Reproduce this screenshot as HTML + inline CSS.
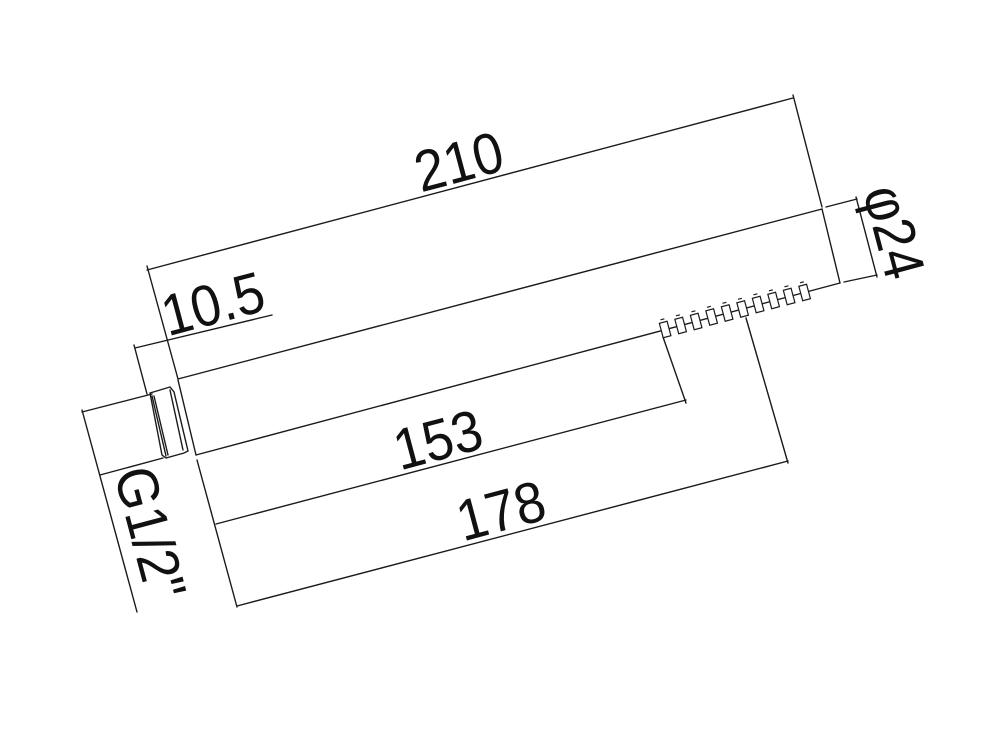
<!DOCTYPE html>
<html><head><meta charset="utf-8"><style>
html,body{margin:0;padding:0;background:#fff;}
svg{display:block;}
text{font-family:"Liberation Sans",sans-serif;font-size:58px;fill:#111;}
</style></head><body>
<svg width="1000" height="734" viewBox="0 0 1000 734" xmlns="http://www.w3.org/2000/svg">
<g stroke="#1a1a1a" stroke-width="1.4" fill="none" stroke-linecap="round">
<line x1="178" y1="379" x2="822" y2="209"/>
<line x1="196" y1="455" x2="840" y2="283"/>
<line x1="822" y1="209" x2="840" y2="283"/>
<line x1="178" y1="380" x2="196" y2="455"/>
<polygon points="150,393 170,387 174,392 188,451 184,453 166,458 162,455"/>
<line x1="152" y1="396" x2="166" y2="456"/>
<line x1="154" y1="396" x2="168" y2="455"/>
<line x1="170" y1="390" x2="183" y2="450"/>
<line x1="147" y1="270" x2="793" y2="98"/>
<line x1="147" y1="266" x2="178" y2="379"/>
<line x1="793" y1="95" x2="822" y2="207"/>
<line x1="135" y1="348" x2="272" y2="315"/>
<line x1="134" y1="345" x2="147" y2="394"/>
<line x1="826" y1="207" x2="857" y2="199"/>
<line x1="844" y1="282" x2="877" y2="275"/>
<line x1="856" y1="197" x2="877" y2="277"/>
<line x1="152" y1="394" x2="82" y2="412"/>
<line x1="163" y1="458" x2="100" y2="475"/>
<line x1="82" y1="410" x2="137" y2="612"/>
<line x1="197" y1="460" x2="237" y2="607"/>
<line x1="216" y1="524" x2="686" y2="400"/>
<line x1="663" y1="337" x2="686" y2="403"/>
<line x1="237" y1="606" x2="788" y2="461"/>
<line x1="746" y1="318" x2="788" y2="463"/>
</g>
<g stroke="#1a1a1a" stroke-width="1.2" fill="#fff">
<g transform="translate(665,329) rotate(-14.9)"><rect x="-4" y="-7" width="8" height="15"/><line x1="-2" y1="-10" x2="2" y2="-10"/></g>
<g transform="translate(680.5,325) rotate(-14.9)"><rect x="-4" y="-7" width="8" height="15"/><line x1="-2" y1="-10" x2="2" y2="-10"/></g>
<g transform="translate(696,321) rotate(-14.9)"><rect x="-4" y="-7" width="8" height="15"/><line x1="-2" y1="-10" x2="2" y2="-10"/></g>
<g transform="translate(711.5,316.5) rotate(-14.9)"><rect x="-4" y="-7" width="8" height="15"/><line x1="-2" y1="-10" x2="2" y2="-10"/></g>
<g transform="translate(727,312.5) rotate(-14.9)"><rect x="-4" y="-7" width="8" height="15"/><line x1="-2" y1="-10" x2="2" y2="-10"/></g>
<g transform="translate(742.5,308.5) rotate(-14.9)"><rect x="-4" y="-7" width="8" height="15"/><line x1="-2" y1="-10" x2="2" y2="-10"/></g>
<g transform="translate(758,304) rotate(-14.9)"><rect x="-4" y="-7" width="8" height="15"/><line x1="-2" y1="-10" x2="2" y2="-10"/></g>
<g transform="translate(773.5,300) rotate(-14.9)"><rect x="-4" y="-7" width="8" height="15"/><line x1="-2" y1="-10" x2="2" y2="-10"/></g>
<g transform="translate(789,296) rotate(-14.9)"><rect x="-4" y="-7" width="8" height="15"/><line x1="-2" y1="-10" x2="2" y2="-10"/></g>
<g transform="translate(804.5,292) rotate(-14.9)"><rect x="-4" y="-7" width="8" height="15"/><line x1="-2" y1="-10" x2="2" y2="-10"/></g>
</g>
<text text-anchor="middle" transform="translate(464,181) rotate(-14.9) scale(0.92,1)">210</text>
<text text-anchor="middle" transform="translate(218,323) rotate(-14.9) scale(0.92,1)">10.5</text>
<text text-anchor="middle" transform="translate(443,459) rotate(-14.9) scale(0.92,1)">153</text>
<text text-anchor="middle" transform="translate(506,530) rotate(-14.9) scale(0.92,1)">178</text>
<text text-anchor="middle" transform="translate(875,237) rotate(75.1) scale(0.92,1)">φ24</text>
<text text-anchor="middle" transform="translate(131,538) rotate(75.1) scale(0.92,1)">G1/2"</text>
</svg>
</body></html>
